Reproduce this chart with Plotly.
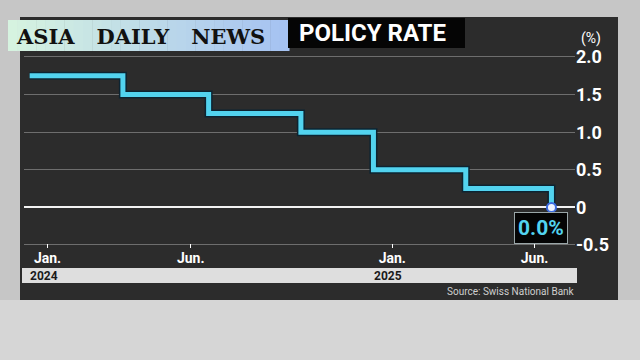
import plotly.graph_objects as go

# ---- data ----
dates = ["2023-12-13", "2024-03-21", "2024-06-20", "2024-09-26",
         "2024-12-12", "2025-03-20", "2025-06-19"]
rates = [1.75, 1.5, 1.25, 1.0, 0.5, 0.25, 0.0]
x_tick_vals = ["2024-01-01", "2024-06-01", "2025-01-01", "2025-06-01"]
x_tick_text = ["Jan.", "Jun.", "Jan.", "Jun."]
year_vals = ["2024-01-01", "2025-01-01"]
year_text = ["2024", "2025"]
y_tick_vals = [2.0, 1.5, 1.0, 0.5, 0.0, -0.5]
y_tick_text = ["2.0", "1.5", "1.0", "0.5", "0", "-0.5"]
title_brand = "ASIA   DAILY   NEWS"
title_text = "POLICY RATE"
source_text = "Source: Swiss National Bank"
end_label = "0.0%"

W, H = 640, 360
L, R, T, B = 24, 65, 50, 112
PW, PH = W - L - R, H - T - B


def px(x):
    return (x - L) / PW


def py(y):
    return (H - B - y) / PH


CYAN = "#52d3ef"
FONT = "Roboto, Liberation Sans, sans-serif"

fig = go.Figure()
fig.add_trace(go.Scatter(x=dates, y=rates, mode="lines", line=dict(shape="hv", color="#0c2432", width=8),
                         hoverinfo="skip", showlegend=False))
fig.add_trace(go.Scatter(x=dates, y=rates, mode="lines", line=dict(shape="hv", color=CYAN, width=5),
                         showlegend=False))
fig.add_trace(go.Scatter(x=[dates[-1]], y=[rates[-1]], mode="markers",
                         marker=dict(size=9, color="#eef3ff", line=dict(color="#3b6be0", width=2)),
                         showlegend=False, cliponaxis=False))

shapes = []
# lighter bottom backdrop
shapes.append(dict(type="rect", xref="paper", yref="paper", x0=px(0), x1=px(640), y0=py(360), y1=py(300),
                   fillcolor="#d6d6d6", line=dict(width=0), layer="below"))
# dark panel
shapes.append(dict(type="rect", xref="paper", yref="paper", x0=px(20), x1=px(618), y0=py(300), y1=py(17),
                   fillcolor="#2c2c2c", line=dict(width=0), layer="below"))
# header gradient
c0 = (0xd6, 0xf3, 0xe0)
c1 = (0xa6, 0xc3, 0xf2)
n = 30
x_start, x_end = 8, 289
for i in range(n):
    t = i / (n - 1)
    col = tuple(int(c0[k] + (c1[k] - c0[k]) * t) for k in range(3))
    xa = x_start + (x_end - x_start) * i / n
    xb = x_start + (x_end - x_start) * (i + 1) / n + 0.5
    shapes.append(dict(type="rect", xref="paper", yref="paper", x0=px(xa), x1=px(xb), y0=py(51), y1=py(20),
                       fillcolor="rgb(%d,%d,%d)" % col, line=dict(width=0), layer="below"))
# black title box
shapes.append(dict(type="rect", xref="paper", yref="paper", x0=px(288), x1=px(465), y0=py(48), y1=py(18),
                   fillcolor="#050505", line=dict(width=0), layer="below"))
# year band
shapes.append(dict(type="rect", xref="paper", yref="paper", x0=px(22), x1=px(577), y0=py(283), y1=py(268),
                   fillcolor="#dedede", line=dict(width=0), layer="below"))

annotations = [
    dict(text="<b>" + title_brand + "</b>", xref="paper", yref="paper", x=px(14), y=py(36),
         xanchor="left", yanchor="middle", showarrow=False,
         font=dict(family="DejaVu Serif, serif", size=21, color="#111")),
    dict(text="<b>" + title_text + "</b>", xref="paper", yref="paper", x=px(297), y=py(33),
         xanchor="left", yanchor="middle", showarrow=False,
         font=dict(family=FONT, size=24, color="white")),
    dict(text="(%)", xref="paper", yref="paper", x=px(591), y=py(38), xanchor="center", yanchor="middle",
         showarrow=False, font=dict(family=FONT, size=14, color="white")),
    dict(text=source_text, xref="paper", yref="paper", x=px(577), y=py(291), xanchor="right",
         yanchor="middle", showarrow=False, font=dict(family=FONT, size=10, color="#cfcfcf")),
    dict(text="<b>" + end_label + "</b>", x=dates[-1], y=rates[-1], xref="x", yref="y",
         showarrow=False, xanchor="center", yanchor="middle", xshift=-10, yshift=-21,
         bgcolor="#050505", bordercolor="#9aa6a8", borderwidth=1, borderpad=3,
         font=dict(family=FONT, size=21, color=CYAN)),
]
for v, t in zip(year_vals, year_text):
    annotations.append(dict(text="<b>" + t + "</b>", x=v, xref="x", yref="paper", y=py(276),
                            xanchor="center", yanchor="middle", showarrow=False, xshift=-4,
                            font=dict(family=FONT, size=12, color="#1a1a1a")))

fig.update_layout(
    width=W, height=H,
    margin=dict(l=L, r=R, t=T, b=B),
    paper_bgcolor="#c6c6c6",
    plot_bgcolor="rgba(0,0,0,0)",
    shapes=shapes,
    annotations=annotations,
    xaxis=dict(range=["2023-12-07", "2025-07-14"], tickvals=x_tick_vals, ticktext=x_tick_text,
               showgrid=False, zeroline=False, showline=False, ticks="inside", ticklen=4,
               tickcolor="white", tickfont=dict(family=FONT, size=14, color="white", weight="bold")),
    yaxis=dict(range=[-0.54, 2.093], side="right", tickvals=y_tick_vals, ticktext=y_tick_text,
               showgrid=True, gridcolor="#6e6e6e", gridwidth=1, zeroline=True, zerolinecolor="#f2f2f2",
               zerolinewidth=2, showline=False, ticks="",
               tickfont=dict(family=FONT, size=18, color="white", weight="bold")),
    showlegend=False,
)

fig.write_html("out.html", config={"displayModeBar": False},
               post_script="document.body.style.margin='0';")
